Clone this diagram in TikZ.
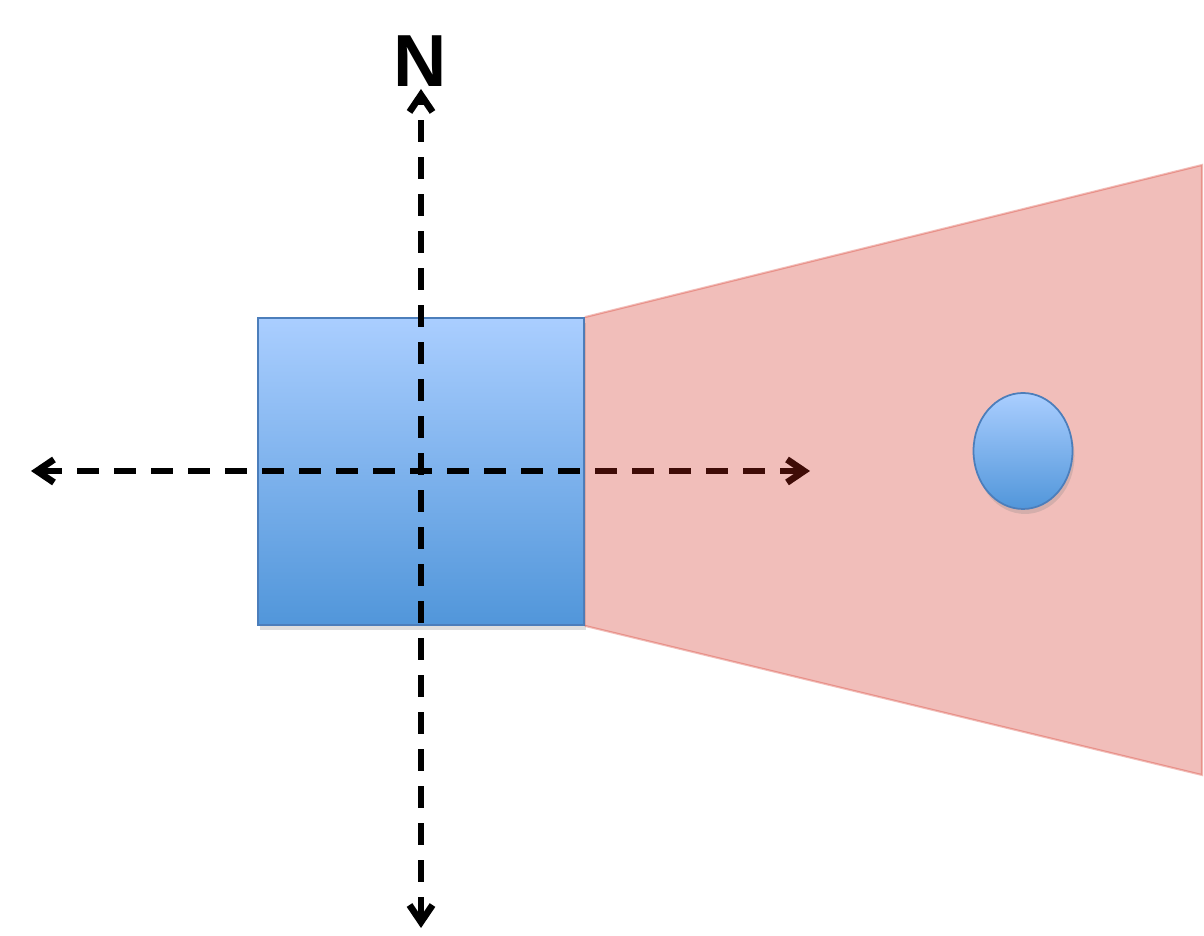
\documentclass[tikz,border=0pt]{standalone}
\usepackage{tikz}
\usetikzlibrary{arrows.meta,positioning,shadows,shapes.geometric}
\usepackage{xcolor}
\usepackage{fontspec}
\setmainfont{Liberation Sans}
\definecolor{boxtop}{HTML}{AACEFF}
\definecolor{boxbot}{HTML}{5196DA}
\definecolor{boxedge}{HTML}{4C7EBB}
\definecolor{beam}{HTML}{D2281A}

\begin{document}
\begin{tikzpicture}[
  axis/.style={black,line width=1.45pt,dash pattern=on 0.22cm off 0.15cm,
    {Straight Barb[length=0.17cm,width=0.23cm,line width=1.9pt]}-{Straight Barb[length=0.17cm,width=0.23cm,line width=1.9pt]}},
  softshadow/.style={drop shadow={opacity=0.25,shadow xshift=0.02cm,shadow yshift=-0.05cm}}
]
  \useasboundingbox (0,0) rectangle (12.04,9.36);

  % Sensor box
  \node[draw=boxedge,line width=0.5pt,top color=boxtop,bottom color=boxbot,
    minimum width=3.26cm,minimum height=3.07cm,inner sep=0pt,softshadow] (sensor) at (4.21,4.645) {};

  % Axes
  \coordinate (north) at (4.21,8.47);
  \coordinate (south) at (4.21,0.08);
  \coordinate (west) at (0.31,4.65);
  \coordinate (east) at (8.10,4.65);
  \draw[axis] (south) -- (north);
  \draw[axis] (west) -- (east);
  \node[font=\bfseries\fontsize{21}{25}\selectfont,inner sep=0pt] (nlabel) at (4.20,8.75) {N};

  % Field of view
  \coordinate (fovtop) at (12.02,7.71);
  \coordinate (fovbot) at (12.02,1.61);
  \fill[beam,opacity=0.3] (sensor.north east) -- (fovtop) -- (fovbot) -- (sensor.south east) -- cycle;
  \draw[beam,opacity=0.3,line width=0.6pt] (sensor.north east) -- (fovtop) -- (fovbot) -- (sensor.south east);

  % Target
  \node[ellipse,draw=boxedge,line width=0.5pt,top color=boxtop,bottom color=boxbot,
    minimum width=0.99cm,minimum height=1.16cm,inner sep=0pt,softshadow] (target) at (10.23,4.85) {};
\end{tikzpicture}
\end{document}
